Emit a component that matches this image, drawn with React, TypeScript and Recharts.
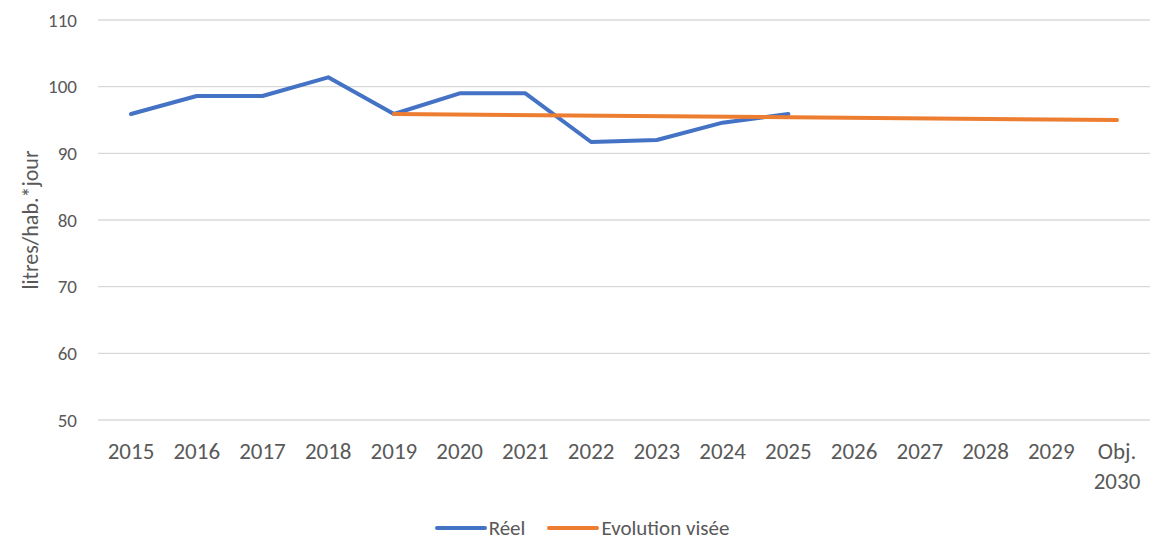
import React from "react";
import { LineChart, Line, XAxis, YAxis, CartesianGrid, Legend } from "recharts";

const categories = ["2015", "2016", "2017", "2018", "2019", "2020", "2021", "2022", "2023", "2024", "2025", "2026", "2027", "2028", "2029", "Obj. 2030"];
const reel: (number | null)[] = [95.9, 98.6, 98.6, 101.4, 95.9, 99.0, 99.0, 91.7, 92.0, 94.6, 95.9, null, null, null, null, null];
const evolution: (number | null)[] = [null, null, null, null, 95.9, null, null, null, null, null, null, null, null, null, null, 95.0];
const yTicks = [50, 60, 70, 80, 90, 100, 110];
const seriesNames = ["Réel", "Evolution visée"];
const seriesColors = ["#4472C4", "#ED7D31"];

const data = categories.map((c, i) => ({ cat: c, reel: reel[i], evolution: evolution[i] }));

const FONT = "Carlito, Calibri, Lato, sans-serif";
const TEXT = "#595959";

const XTick = (props: any) => {
  const { x, y, payload } = props;
  const parts = String(payload.value).split(" ");
  return (
    <text x={x} y={y} textAnchor="middle" fill={TEXT} fontSize={23} fontFamily={FONT}>
      {parts.map((p: string, i: number) => (
        <tspan key={i} x={x} dy={i === 0 ? 31 : 30}>{p}</tspan>
      ))}
    </text>
  );
};

const YLabel = (props: any) => {
  const vb = props.viewBox || {};
  const cx = (vb.x || 0) + 30;
  const cy = (vb.y || 0) + (vb.height || 0) / 2;
  return (
    <text x={cx} y={cy} transform={`rotate(-90 ${cx} ${cy})`} textAnchor="middle" dominantBaseline="central" fill={TEXT} fontSize={22} fontFamily={FONT}>
      litres/hab.*jour
    </text>
  );
};

const LegendContent = () => {
  return (
    <div style={{ display: "flex", justifyContent: "center", alignItems: "center", fontFamily: FONT, fontSize: 21, color: TEXT, paddingLeft: 14 }}>
      {seriesNames.map((name, i) => (
        <div key={i} style={{ display: "flex", alignItems: "center", marginRight: i === 0 ? 22 : 0 }}>
          <svg width={52} height={10} style={{ marginRight: 2 }}>
            <line x1={2} y1={5} x2={50} y2={5} stroke={seriesColors[i]} strokeWidth={4} strokeLinecap="round" />
          </svg>
          <span>{name}</span>
        </div>
      ))}
    </div>
  );
};

export default function App() {
  return (
    <div style={{ position: "absolute", left: 0, top: 0 }}>
      <LineChart width={1169} height={545} data={data} margin={{ top: 20, right: 19, left: 0, bottom: 0 }}>
        <CartesianGrid vertical={false} stroke="#D9D9D9" strokeWidth={1.3} />
        <XAxis dataKey="cat" axisLine={false} tickLine={false} tick={<XTick />} interval={0} padding={{ left: 33, right: 33 }} height={95} />
        <YAxis domain={[50, 110]} ticks={yTicks} axisLine={false} tickLine={false} tickSize={0} tickMargin={21} width={98}
          tick={{ fill: TEXT, fontSize: 19, fontFamily: FONT }} label={<YLabel />} />
        <Legend verticalAlign="bottom" height={30} content={<LegendContent />} />
        <Line dataKey="reel" name={seriesNames[0]} stroke={seriesColors[0]} strokeWidth={4} dot={false} strokeLinejoin="round" strokeLinecap="round" isAnimationActive={false} />
        <Line dataKey="evolution" name={seriesNames[1]} stroke={seriesColors[1]} strokeWidth={4} dot={false} connectNulls strokeLinecap="round" isAnimationActive={false} />
      </LineChart>
    </div>
  );
}
